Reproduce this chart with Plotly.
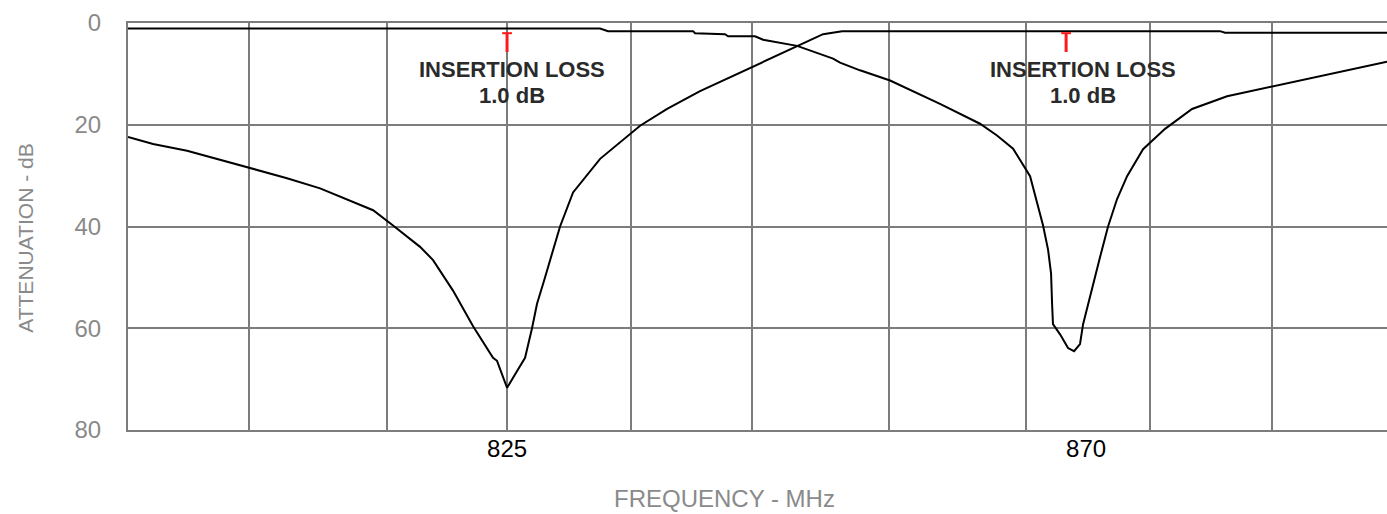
import plotly.graph_objects as go

# ---- data (frequency in MHz, attenuation in dB) ----
tx_freq = [795.54, 832.23, 832.85, 839.46, 839.61, 841.94, 842.18, 844.27, 844.90,
           847.54, 850.34, 850.88, 852.43, 854.77, 858.65, 861.76, 863.08, 864.33,
           865.65, 866.42, 866.66, 867.05, 867.28, 867.36, 867.43, 867.98, 868.60,
           869.07, 869.53, 869.77, 870.08, 870.54, 871.09, 871.71, 872.41, 873.19,
           874.43, 876.14, 878.24, 880.96, 884.38, 888.89, 893.39]
tx_att = [1.1, 1.1, 1.6, 1.6, 2.0, 2.2, 2.6, 2.6, 3.3,
          4.5, 7.0, 7.8, 9.3, 11.3, 15.9, 19.8, 22.1, 24.7,
          30.1, 37.2, 39.8, 44.6, 49.2, 55.2, 59.2, 61.2, 63.9,
          64.5, 63.1, 59.2, 56.0, 51.2, 46.0, 40.0, 34.6, 30.1,
          24.8, 20.8, 16.9, 14.4, 12.5, 10.1, 7.6]

rx_freq = [795.54, 797.49, 800.13, 802.69, 804.95, 807.90, 810.47, 813.03, 814.59,
           816.14, 818.24, 819.25, 820.80, 822.36, 823.91, 824.22, 825.00, 825.78,
           826.40, 826.94, 827.33, 827.88, 828.58, 829.12, 830.13, 832.23, 835.34,
           837.44, 840.00, 843.89, 846.45, 847.54, 849.56, 851.04, 880.41, 880.80,
           893.39]
rx_att = [22.4, 23.8, 25.1, 26.9, 28.5, 30.5, 32.5, 35.2, 36.8,
          39.8, 44.0, 46.6, 52.6, 59.6, 65.8, 66.4, 71.7, 68.4,
          65.8, 60.0, 55.2, 50.6, 44.6, 40.0, 33.3, 26.7, 20.2,
          16.9, 13.4, 8.8, 5.9, 4.5, 2.2, 1.6, 1.6, 1.9,
          1.9]

grid_freqs = [804.95, 815.67, 825.0, 834.64, 844.04, 854.69, 865.34, 874.97, 884.46]
freq_ticks = [825, 870]
freq_tick_text = ["825", "870"]
att_ticks = [0, 20, 40, 60, 80]
att_tick_text = ["0", "20", "40", "60", "80"]

il_marker_freq = [825.0, 868.45]
il_marker_top = 2.0
il_marker_bottom = 5.7
il_label_freq = [825.4, 869.8]
il_label_line1 = "INSERTION LOSS"
il_label_line2 = "1.0 dB"

x_range = [795.54, 893.39]
y_range = [80, 0]

FONT = "Liberation Sans, Arial, sans-serif"

fig = go.Figure()
fig.add_trace(go.Scatter(x=rx_freq, y=rx_att, mode="lines",
                         line=dict(color="black", width=2), showlegend=False,
                         hoverinfo="skip"))
fig.add_trace(go.Scatter(x=tx_freq, y=tx_att, mode="lines",
                         line=dict(color="black", width=2), showlegend=False,
                         hoverinfo="skip"))

# red insertion loss markers
for f in il_marker_freq:
    fig.add_trace(go.Scatter(x=[f, f], y=[il_marker_bottom, il_marker_top],
                             mode="lines", line=dict(color="#ff1a1a", width=3),
                             showlegend=False, hoverinfo="skip"))
    fig.add_trace(go.Scatter(x=[f], y=[il_marker_top], mode="markers",
                             marker=dict(symbol="line-ew", size=7,
                                         line=dict(color="#ff1a1a", width=2)),
                             showlegend=False, hoverinfo="skip"))

for f in il_label_freq:
    fig.add_annotation(x=f, y=9.2, text="<b>" + il_label_line1 + "</b>",
                       showarrow=False, font=dict(family=FONT, size=22, color="#2a2a2a"))
    fig.add_annotation(x=f, y=14.2, text="<b>" + il_label_line2 + "</b>",
                       showarrow=False, font=dict(family=FONT, size=22, color="#2a2a2a"))

grid_col = "#7c7c7c"
fig.update_layout(
    width=1387, height=514,
    margin=dict(l=128, r=0, t=23, b=84),
    paper_bgcolor="white", plot_bgcolor="white",
    font=dict(family=FONT),
    xaxis=dict(range=x_range, tickvals=grid_freqs, showticklabels=False,
               showgrid=True, gridcolor=grid_col, gridwidth=2, zeroline=False,
               showline=True, linecolor=grid_col, linewidth=2, mirror=True,
               ticks=""),
    xaxis2=dict(range=x_range, overlaying="x", side="bottom", anchor="y",
                tickvals=freq_ticks, ticktext=freq_tick_text, showgrid=False,
                zeroline=False, showline=False, ticks="",
                ticklabelstandoff=2,
                tickfont=dict(family=FONT, size=24, color="black")),
    yaxis=dict(range=y_range, tickvals=att_ticks, ticktext=att_tick_text,
               showgrid=True, gridcolor=grid_col, gridwidth=2, zeroline=False,
               showline=True, linecolor=grid_col, linewidth=2, ticks="",
               ticklabelstandoff=20,
               tickfont=dict(family=FONT, size=24, color="#8a8a8a")),
)
# dummy trace to show xaxis2
fig.add_trace(go.Scatter(x=[freq_ticks[0]], y=[None], xaxis="x2",
                         showlegend=False, hoverinfo="skip"))

fig.add_annotation(xref="paper", yref="paper", x=-0.081, y=0.47,
                   xanchor="center", yanchor="middle",
                   text="ATTENUATION - dB", textangle=-90, showarrow=False,
                   font=dict(family=FONT, size=21, color="#8a8a8a"))
fig.add_annotation(xref="paper", yref="paper", x=0.474, y=-0.169,
                   xanchor="center", yanchor="middle",
                   text="FREQUENCY - MHz", showarrow=False,
                   font=dict(family=FONT, size=24, color="#8a8a8a"))

fig.write_html("out.html", config={"displayModeBar": False},
               post_script="document.body.style.margin='0';document.body.style.overflow='hidden';")
